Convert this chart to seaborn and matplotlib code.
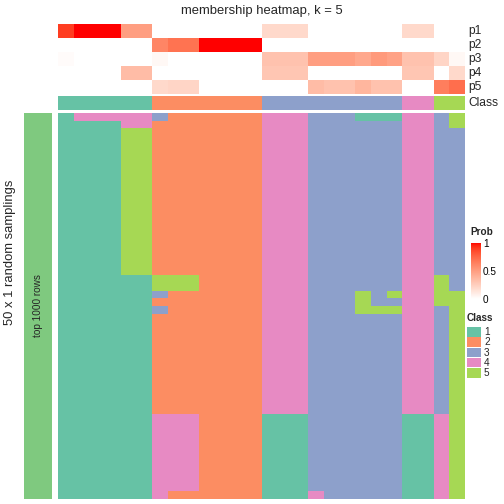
import numpy as np
import pandas as pd
import matplotlib
matplotlib.use("Agg")
import matplotlib.pyplot as plt
from matplotlib.colors import ListedColormap
from matplotlib.patches import Rectangle
import seaborn as sns

sns.set_theme(style="white")
plt.rcParams['font.family'] = ['Liberation Sans', 'DejaVu Sans']

# ---------------- data ----------------
title = "membership heatmap, k = 5"
prob_names = ["p1", "p2", "p3", "p4", "p5"]
class_labels = ["1", "2", "3", "4", "5"]
class_colors = ["#66C2A5", "#FC8D62", "#8DA0CB", "#E78AC3", "#A6D854"]

p1 = [0.9, 1.0, 1.0, 1.0, 0.5, 0.5, 0, 0, 0, 0, 0, 0, 0, 0.2, 0.2, 0.2, 0, 0, 0, 0, 0, 0, 0.2, 0.2, 0, 0]
p2 = [0, 0, 0, 0, 0, 0, 0.62, 0.7, 0.7, 1.0, 1.0, 1.0, 1.0, 0, 0, 0, 0, 0, 0, 0, 0, 0, 0, 0, 0, 0]
p3 = [0.02, 0, 0, 0, 0, 0, 0.04, 0, 0, 0, 0, 0, 0, 0.32, 0.32, 0.32, 0.5, 0.5, 0.5, 0.45, 0.52, 0.48, 0.32, 0.32, 0.22, 0.04]
p4 = [0, 0, 0, 0, 0.35, 0.35, 0, 0, 0, 0, 0, 0, 0, 0.3, 0.3, 0.3, 0, 0, 0, 0, 0, 0, 0.3, 0.3, 0, 0.2]
p5 = [0, 0, 0, 0, 0, 0, 0.2, 0.22, 0.22, 0, 0, 0, 0, 0, 0, 0, 0.35, 0.32, 0.32, 0.38, 0.32, 0.32, 0, 0, 0.65, 0.72]
column_class = [1, 1, 1, 1, 1, 1, 2, 2, 2, 2, 2, 2, 2, 3, 3, 3, 3, 3, 3, 3, 3, 3, 4, 4, 5, 5]

# one string per random sampling (row), one digit per column = class
samplings = [
    "14444432222224443331114435",
    "11114422222224443333334435",
] + ["11115522222224443333334433"] * 19 + [
    "11111155522224443333334453",
    "11111155522224443333334453",
    "11111132222224443335354455",
    "11111122222224443335334455",
    "11111132222224443335554435",
] + ["11111122222224443333334435"] * 13 + [
    "11111144422221113333331145",
] * 10 + [
    "11111142222221114333331145",
]

row_title = "50 x 1 random samplings"
bar_label = "top 1000 rows"

# ---------------- colour helpers ----------------
def lab2rgb(L, a, b):
    fy = (L + 16) / 116.0
    fx = fy + a / 500.0
    fz = fy - b / 200.0
    def finv(t):
        return t ** 3 if t > 6 / 29 else 3 * (6 / 29) ** 2 * (t - 4 / 29)
    X, Y, Z = 0.95047 * finv(fx), finv(fy), 1.08883 * finv(fz)
    r = 3.2406 * X - 1.5372 * Y - 0.4986 * Z
    g = -0.9689 * X + 1.8758 * Y + 0.0415 * Z
    bb = 0.0557 * X - 0.2040 * Y + 1.0570 * Z
    def gam(c):
        c = min(max(c, 0), 1)
        return 12.92 * c if c <= 0.0031308 else 1.055 * c ** (1 / 2.4) - 0.055
    return (gam(r), gam(g), gam(bb))

white_lab = np.array([100.0, 0.0, 0.0])
red_lab = np.array([53.24, 80.09, 67.20])
prob_cmap = ListedColormap([lab2rgb(*(white_lab + t * (red_lab - white_lab)))
                            for t in np.linspace(0, 1, 256)])
class_cmap = ListedColormap(class_colors)

# ---------------- figure ----------------
W = H = 504
fig = plt.figure(figsize=(W / 72, H / 72), dpi=72)

def ax_px(x0, y0, x1, y1):
    return fig.add_axes([x0 / W, 1 - y1 / H, (x1 - x0) / W, (y1 - y0) / H])

HX0, HX1 = 58, 465

prob_df = pd.DataFrame([p1, p2, p3, p4, p5], index=prob_names)
ax_p = ax_px(HX0, 24, HX1, 94)
cax = ax_px(471, 243, 481, 299)
sns.heatmap(prob_df, ax=ax_p, cmap=prob_cmap, vmin=0, vmax=1, cbar_ax=cax,
            xticklabels=False, yticklabels=False)
ax_p.set_xlabel(""); ax_p.set_ylabel("")
for i, n in enumerate(prob_names):
    ax_p.text(len(p1) + 0.2, i + 0.5, n, ha="left", va="center", fontsize=12)
cax.set_yticks([0, 0.5, 1])
cax.set_yticklabels(["0", "0.5", "1"], fontsize=10)
cax.tick_params(length=3, width=0.8, colors="white", labelcolor="black", pad=2, direction="in")
fig.text(470 / W, 1 - 232 / H, "Prob", ha="left", va="center", fontsize=10, fontweight="bold")

ax_c = ax_px(HX0, 96, HX1, 110)
sns.heatmap(np.array([column_class]), ax=ax_c, cmap=class_cmap, vmin=0.5, vmax=5.5,
            cbar=False, xticklabels=False, yticklabels=False)
ax_c.text(len(column_class) + 0.2, 0.5, "Class", ha="left", va="center", fontsize=12)

main = np.array([[int(ch) for ch in s] for s in samplings])
ax_m = ax_px(HX0, 113, HX1, 499)
sns.heatmap(main, ax=ax_m, cmap=class_cmap, vmin=0.5, vmax=5.5,
            cbar=False, xticklabels=False, yticklabels=False)

ax_b = ax_px(24, 113, 52, 499)
sns.heatmap(np.array([[1]]), ax=ax_b, cmap=ListedColormap(["#7FC97F"]),
            cbar=False, xticklabels=False, yticklabels=False)
ax_b.text(0.5, 0.5, bar_label, rotation=90, ha="center", va="center", fontsize=10)

fig.text(10 / W, 1 - 252 / H, row_title, rotation=90, ha="center", va="center", fontsize=13)
fig.text(262 / W, 1 - 11 / H, title, ha="center", va="center", fontsize=13)

# Class legend
fig.text(467 / W, 1 - 318 / H, "Class", ha="left", va="center", fontsize=10, fontweight="bold")
for i, (lab, col) in enumerate(zip(class_labels, class_colors)):
    y0 = 327 + i * 10.3
    fig.patches.append(Rectangle((467 / W, 1 - (y0 + 9.5) / H), 14 / W, 9.5 / H,
                                 transform=fig.transFigure, facecolor=col, edgecolor="none"))
    fig.text(484 / W, 1 - (y0 + 5) / H, lab, ha="left", va="center", fontsize=10)

fig.savefig("out.png", dpi=72)
